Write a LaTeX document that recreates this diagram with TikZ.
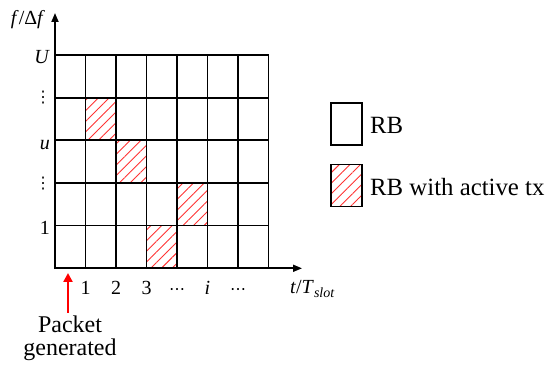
\documentclass[tikz,border=0pt]{standalone}
\usepackage{fontspec}
\setmainfont{Liberation Serif}
\newfontfamily\dejavu{DejaVu Sans}
\usetikzlibrary{patterns.meta,arrows.meta}
\begin{document}
\begin{tikzpicture}[x=1pt,y=-1pt,
  gridline/.style={line width=1.7pt},
  axisline/.style={line width=1.7pt,-{Triangle[length=9pt,width=7pt]}},
  hatch/.style={pattern={Lines[angle=45,distance=7.5pt,line width=0.9pt]},pattern color=red!80},
  axlabel/.style={font=\fontsize{20}{22}\selectfont,inner sep=0pt},
  bigtext/.style={font=\fontsize{24}{22.5}\selectfont,inner sep=0pt},
  legtext/.style={font=\fontsize{24.8}{26}\selectfont,inner sep=0pt},
  legbox/.style={draw,line width=1.7pt,minimum width=31pt,minimum height=42pt,inner sep=0pt}]
\useasboundingbox (0,0) rectangle (550,366);
\def\cw{30.5}
\def\rh{42.66}
% hatched cells
\foreach \c/\r in {1/1,2/2,4/3,3/4}{
  \fill[hatch] ({55+\c*\cw},{55+\r*\rh}) rectangle ({55+(\c+1)*\cw},{55+(\r+1)*\rh});
}
% grid
\foreach \c in {1,...,7}{
  \draw[gridline] ({55+\c*\cw},55) -- ({55+\c*\cw},268.3);
}
\foreach \r in {0,...,4}{
  \draw[gridline] (55,{55+\r*\rh}) -- (268.5,{55+\r*\rh});
}
% axes
\coordinate (o) at (55,268.3);
\coordinate (ytip) at (55,13);
\coordinate (xtip) at (302,268.3);
\draw[axisline] ([yshift=-0.85pt]o) -- (ytip);
\draw[axisline] ([xshift=-0.85pt]o) -- (xtip);
% y labels
\node[axlabel] (yl) at (28,20) {\textit{f}/Δ\textit{f}};
\node[axlabel,anchor=east] (lU) at (50,57) {\textit{U}};
\node[axlabel,font=\dejavu\fontsize{16}{18}\selectfont] (ld1) at (43,98) {⋮};
\node[axlabel,anchor=east] (lu) at (50,145) {\textit{u}};
\node[axlabel,font=\dejavu\fontsize{16}{18}\selectfont] (ld2) at (43,184) {⋮};
\node[axlabel,anchor=east] (l1) at (50,228) {1};
% x labels
\foreach \n/\t [count=\k] in {x1/1,x2/2,x3/3,x5/\textit{i}}{
  \pgfmathsetmacro\kk{\k<4 ? \k : 5}
  \node[axlabel,anchor=base] (\n) at ({55+\kk*\cw},295) {\t};
}
\node[axlabel,anchor=base,font=\dejavu\fontsize{16}{18}\selectfont] (x4) at ({55+4*\cw},295) {⋯};
\node[axlabel,anchor=base,font=\dejavu\fontsize{16}{18}\selectfont] (x6) at ({55+6*\cw},295) {⋯};
\node[axlabel,anchor=base west] (xl) at (290,294) {\textit{t}/\textit{T}\textsubscript{\textit{slot}}};
% packet generated
\node[bigtext,align=center,anchor=north] (pk) at (70,316) {Packet\\generated};
\coordinate (pkt) at (68,273);
\draw[red,line width=2.6pt,-{Triangle[length=9pt,width=9pt]}] ([xshift=-2pt]pk.north) ++(0,-3) -- (pkt);
% legend
\node[legbox] (b1) at (346.5,124) {};
\node[legbox,hatch] (b2) at (346.5,185.5) {};
\node[legtext,anchor=west] (t1) at (370,125) {RB};
\node[legtext,anchor=west] (t2) at (370,187) {RB with active tx};
\end{tikzpicture}
\end{document}
